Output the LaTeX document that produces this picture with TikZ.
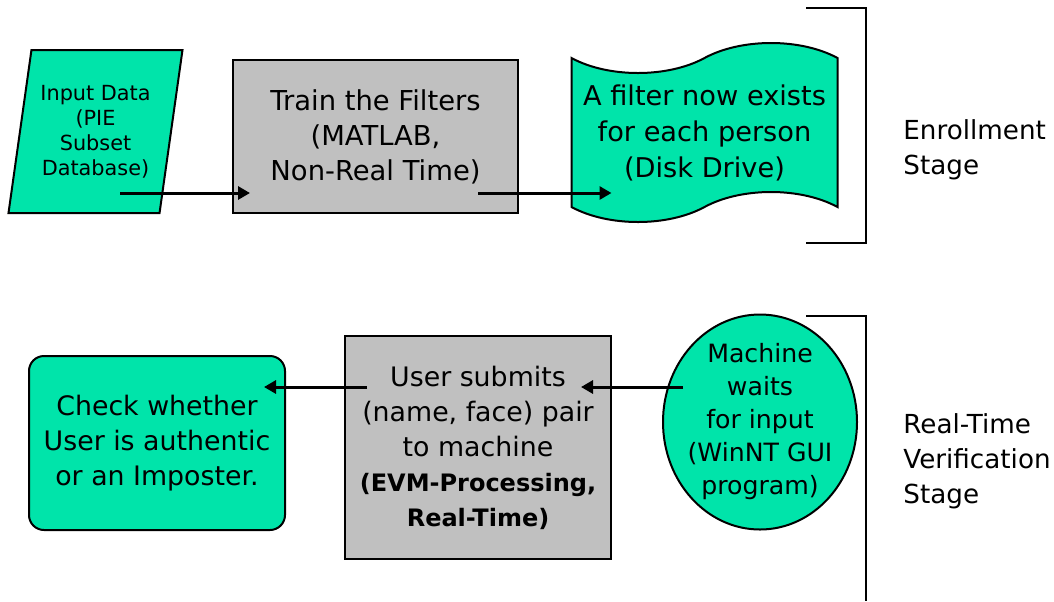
\documentclass[tikz,border=0pt]{standalone}
\usepackage{fontspec}
\setmainfont{DejaVu Sans}
\usepackage{xcolor}
\usetikzlibrary{positioning,arrows.meta,shapes.geometric,shapes.symbols}
\definecolor{stagegreen}{RGB}{0,228,170}
\definecolor{procgray}{RGB}{192,192,192}
\newcommand{\boldline}[1]{{\fontsize{12}{17.5}\selectfont\bfseries #1}}

\begin{document}
\begin{tikzpicture}[x=0.5pt, y=-0.5pt,
  greenbox/.style={draw=black, line width=1pt, fill=stagegreen, align=center, inner sep=0pt},
  graybox/.style={rectangle, draw=black, line width=1pt, fill=procgray, align=center, inner sep=0pt},
  mainfont/.style={font=\fontsize{13.4}{17.5}\selectfont},
  arr/.style={-{Triangle[length=6pt,width=6.5pt]}, line width=1.5pt},
  bracket/.style={line width=1pt}]
  \useasboundingbox (0,0) rectangle (1054,601);

  % enrollment stage
  \node[greenbox, trapezium, trapezium left angle=78, trapezium right angle=102,
    trapezium stretches=true, minimum width=87.5pt, minimum height=81.5pt,
    font=\fontsize{10.4}{12.5}\selectfont] (inp) at (95.5,131.5) {Input Data\\(PIE\\Subset\\Database)};
  \node[graybox, font=\fontsize{13.7}{17.5}\selectfont, minimum width=142.5pt, minimum height=76.5pt]
    (train) at (375.5,136.5) {Train the Filters\\(MATLAB,\\Non-Real Time)};
  \node[greenbox, tape, font=\fontsize{13.6}{18}\selectfont, minimum width=133pt,
    minimum height=89.5pt, tape bend height=15pt] (tape) at (704.5,132.5)
    {A filter now exists\\for each person\\(Disk Drive)};
  \draw[arr] ([shift={(24.5,61.5)}]inp.center) -- ([shift={(18,56.5)}]train.west);
  \draw[arr] ([shift={(-41,56.5)}]train.east) -- ([shift={(41,60.5)}]tape.west);

  % verification stage
  \node[greenbox, rectangle, rounded corners=7.5pt, mainfont, minimum width=128pt,
    minimum height=87pt] (check) at (157,443) {Check whether\\User is authentic\\or an Imposter.};
  \node[graybox, mainfont, minimum width=133pt, minimum height=111.5pt] (sub) at (478,447.5)
    {User submits\\(name, face) pair\\to machine\\\boldline{(EVM-Processing,}\\\boldline{Real-Time)}};
  \node[greenbox, ellipse, minimum width=97pt, minimum height=107.5pt,
    label={[align=center, font=\fontsize{12.6}{16.5}\selectfont]center:Machine\\waits\\for input\\(WinNT GUI\\program)}]
    (wait) at (760,422) {};
  \draw[arr] ([shift={(21,-35)}]wait.west) -- ([shift={(-31,-60.5)}]sub.east);
  \draw[arr] ([shift={(23,-60.5)}]sub.west) -- ([shift={(-22,-56)}]check.east);

  % stage brackets
  \coordinate (enrtop) at (866,8);
  \coordinate (enrbot) at (866,243);
  \coordinate (vertop) at (866,316);
  \coordinate (verbot) at (866,601);
  \draw[bracket] ([xshift=-30]enrtop) -- (enrtop) -- (enrbot) -- ([xshift=-30]enrbot);
  \draw[bracket] ([xshift=-30]vertop) -- (vertop) -- (verbot);
  \node[font=\fontsize{13.1}{17.5}\selectfont, align=left, anchor=west, inner sep=0pt] (enrlabel) at (903,149.5) {Enrollment\\Stage};
  \node[font=\fontsize{13.1}{17.5}\selectfont, align=left, anchor=west, inner sep=0pt] (verlabel) at (903,461) {Real-Time\\Verification\\Stage};
\end{tikzpicture}
\end{document}
